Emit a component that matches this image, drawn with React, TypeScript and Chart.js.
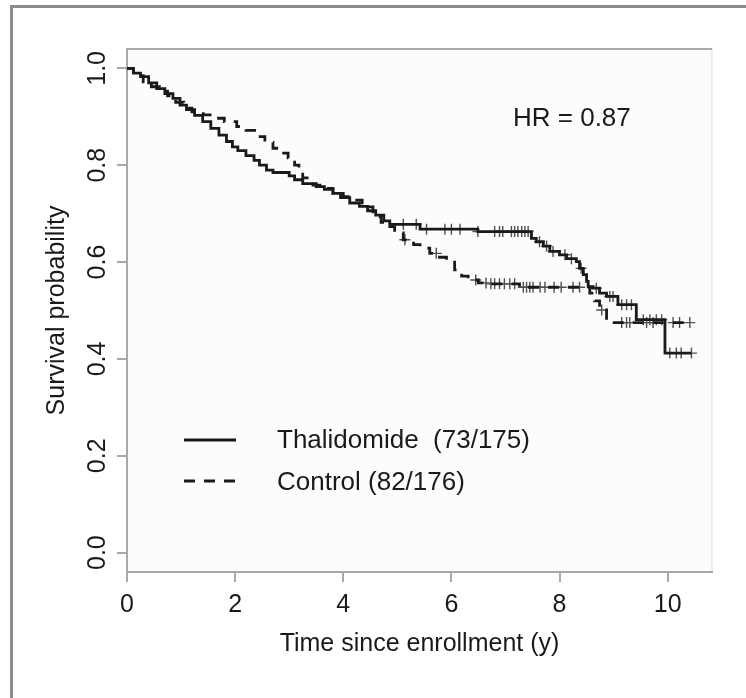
import React, { useEffect, useRef } from "react";
import { Chart, registerables } from "chart.js";

Chart.register(...registerables);

// ---- data ----
const thalTimes = [0, 0.12, 0.25, 0.4, 0.55, 0.7, 0.85, 0.98, 1.1, 1.25, 1.4, 1.55, 1.7, 1.84, 1.95, 2.05, 2.2, 2.35, 2.45, 2.58, 2.7, 3.0, 3.1, 3.25, 3.5, 3.65, 3.81, 3.95, 4.12, 4.3, 4.45, 4.6, 4.75, 4.86, 5.42, 6.49, 7.48, 7.57, 7.7, 7.82, 8.0, 8.13, 8.31, 8.37, 8.44, 8.5, 8.53, 8.62, 8.74, 8.87, 9.08, 9.42, 9.95, 10.44];
const thalSurv = [1.0, 0.99, 0.983, 0.97, 0.958, 0.948, 0.938, 0.924, 0.915, 0.903, 0.89, 0.876, 0.862, 0.849, 0.838, 0.83, 0.82, 0.81, 0.8, 0.79, 0.785, 0.778, 0.77, 0.762, 0.756, 0.75, 0.742, 0.733, 0.722, 0.715, 0.706, 0.697, 0.685, 0.678, 0.668, 0.663, 0.649, 0.642, 0.633, 0.622, 0.615, 0.607, 0.601, 0.587, 0.574, 0.56, 0.549, 0.546, 0.536, 0.529, 0.512, 0.481, 0.412, 0.412];

const ctrlTimes = [0, 0.12, 0.3, 0.45, 0.6, 0.75, 0.9, 1.05, 1.2, 1.41, 1.6, 1.8, 2.03, 2.2, 2.4, 2.55, 2.7, 2.85, 2.98, 3.1, 3.18, 3.25, 3.44, 3.6, 3.81, 4.0, 4.18, 4.35, 4.55, 4.7, 4.86, 4.95, 5.11, 5.3, 5.42, 5.6, 5.75, 5.91, 6.06, 6.19, 6.31, 6.5, 6.71, 7.26, 8.56, 8.65, 8.74, 8.87, 10.41];
const ctrlSurv = [1.0, 0.985, 0.972, 0.962, 0.953, 0.943, 0.93, 0.918, 0.91, 0.904, 0.897, 0.89, 0.88, 0.872, 0.859, 0.847, 0.835, 0.825, 0.815, 0.8, 0.787, 0.774, 0.759, 0.752, 0.742, 0.735, 0.728, 0.714, 0.694, 0.682, 0.673, 0.66, 0.646, 0.636, 0.629, 0.618, 0.61, 0.603, 0.584, 0.571, 0.563, 0.557, 0.555, 0.548, 0.536, 0.52, 0.501, 0.475, 0.475];

const thalCensorTimes = [5.11, 5.35, 5.54, 5.88, 6.0, 6.16, 6.49, 6.8, 6.89, 6.95, 7.11, 7.17, 7.23, 7.3, 7.36, 7.42, 7.63, 7.76, 7.88, 8.1, 8.22, 8.4, 8.68, 8.93, 8.99, 9.15, 9.24, 9.33, 9.55, 9.67, 9.79, 9.89, 10.04, 10.16, 10.25, 10.44];
const ctrlCensorTimes = [5.14, 5.72, 6.45, 6.64, 6.73, 6.8, 6.89, 6.98, 7.08, 7.17, 7.33, 7.39, 7.45, 7.51, 7.64, 7.73, 7.9, 8.03, 8.25, 8.37, 8.78, 9.15, 9.24, 9.3, 9.61, 9.73, 10.1, 10.22, 10.41];

const xTickValues = [0, 2, 4, 6, 8, 10];
const yTickValues = [0, 0.2, 0.4, 0.6, 0.8, 1.0];
const xTitle = "Time since enrollment (y)";
const yTitle = "Survival probability";
const legendLabels = ["Thalidomide  (73/175)", "Control (82/176)"];
const hrLabel = "HR = 0.87";

const FONT = "'Liberation Sans', Arial, Helvetica, sans-serif";
const INK = "#1a1a1a";
const AXIS = "#a9a9a9";

function survAt(times: number[], surv: number[], t: number) {
  let s = surv[0];
  for (let i = 0; i < times.length; i++) if (times[i] <= t) s = surv[i];
  return s;
}

const bgPlugin = {
  id: "bgPlugin",
  beforeDraw(chart: any) {
    const { ctx, chartArea: a } = chart;
    ctx.save();
    ctx.fillStyle = "#fcfcfc";
    ctx.fillRect(a.left, a.top, a.right - a.left, a.bottom - a.top);
    ctx.strokeStyle = "#ececec";
    ctx.lineWidth = 2;
    ctx.beginPath();
    ctx.moveTo(a.right, a.top);
    ctx.lineTo(a.right, a.bottom);
    ctx.stroke();
    ctx.strokeStyle = AXIS;
    ctx.beginPath();
    ctx.moveTo(a.left, a.top);
    ctx.lineTo(a.right, a.top);
    ctx.stroke();
    ctx.restore();
  },
};

const annotPlugin = {
  id: "annotPlugin",
  afterDraw(chart: any) {
    const { ctx, chartArea: a } = chart;
    ctx.save();
    ctx.fillStyle = INK;
    ctx.strokeStyle = INK;
    ctx.font = `26px ${FONT}`;
    ctx.textBaseline = "middle";
    ctx.textAlign = "left";
    // HR label
    ctx.fillText(hrLabel, a.left + 386, 119);
    // legend
    const lx0 = a.left + 57;
    const lx1 = a.left + 109;
    const tx = a.left + 150;
    const rows = [440, 481];
    ctx.lineWidth = 2.8;
    ctx.setLineDash([]);
    ctx.beginPath();
    ctx.moveTo(lx0, rows[0]);
    ctx.lineTo(lx1, rows[0]);
    ctx.stroke();
    ctx.setLineDash([11, 9]);
    ctx.beginPath();
    ctx.moveTo(lx0, rows[1]);
    ctx.lineTo(lx1, rows[1]);
    ctx.stroke();
    ctx.setLineDash([]);
    ctx.fillText(legendLabels[0], tx, rows[0] + 1);
    ctx.fillText(legendLabels[1], tx, rows[1] + 2);
    ctx.restore();
  },
};

export default function App() {
  const ref = useRef<HTMLCanvasElement>(null);
  useEffect(() => {
    if (!ref.current) return;
    const thalLine = thalTimes.map((t, i) => ({ x: t, y: thalSurv[i] }));
    const ctrlLine = ctrlTimes.map((t, i) => ({ x: t, y: ctrlSurv[i] }));
    const thalCens = thalCensorTimes.map((t) => ({ x: t, y: survAt(thalTimes, thalSurv, t) }));
    const ctrlCens = ctrlCensorTimes.map((t) => ({ x: t, y: survAt(ctrlTimes, ctrlSurv, t) }));
    const chart = new Chart(ref.current, {
      type: "line",
      data: {
        datasets: [
          { label: "Thalidomide", data: thalLine, stepped: true, borderColor: INK, borderWidth: 2.8, pointRadius: 0, fill: false } as any,
          { label: "Control", data: ctrlLine, stepped: true, borderColor: INK, borderWidth: 2.8, borderDash: [11, 9], pointRadius: 0, fill: false } as any,
          { type: "scatter", label: "Thal censored", data: thalCens, showLine: false, pointStyle: "cross", pointRadius: 5.5, borderColor: "#505050", borderWidth: 1.4 } as any,
          { type: "scatter", label: "Ctrl censored", data: ctrlCens, showLine: false, pointStyle: "cross", pointRadius: 5.5, borderColor: "#505050", borderWidth: 1.4 } as any,
        ],
      },
      options: {
        responsive: false,
        animation: false,
        events: [],
        layout: { padding: { left: 0, right: 34, top: 49, bottom: 0 } },
        plugins: { legend: { display: false }, tooltip: { enabled: false } },
        scales: {
          x: {
            type: "linear",
            min: 0,
            max: 10.82,
            afterBuildTicks: (s: any) => { s.ticks = xTickValues.map((v) => ({ value: v })); },
            afterFit: (s: any) => { s.height = 126; },
            grid: { drawOnChartArea: false, drawTicks: true, tickLength: 10, color: AXIS, lineWidth: 2 },
            border: { display: true, color: AXIS, width: 2 },
            ticks: { color: INK, font: { family: FONT, size: 25 }, padding: 8, maxRotation: 0, autoSkip: false, callback: (v: any) => String(v) },
            title: { display: true, text: xTitle, color: INK, font: { family: FONT, size: 25 }, padding: { top: 0, bottom: 39 } },
          },
          y: {
            type: "linear",
            min: -0.04,
            max: 1.04,
            afterBuildTicks: (s: any) => { s.ticks = yTickValues.map((v) => ({ value: v })); },
            afterFit: (s: any) => { s.width = 127; },
            grid: { drawOnChartArea: false, drawTicks: true, tickLength: 10, color: AXIS, lineWidth: 2 },
            border: { display: true, color: AXIS, width: 2 },
            ticks: { color: INK, font: { family: FONT, size: 25 }, padding: 2, minRotation: 90, maxRotation: 90, crossAlign: "center", autoSkip: false, callback: (v: any) => Number(v).toFixed(1) },
            title: { display: true, text: yTitle, color: INK, font: { family: FONT, size: 25 }, padding: { top: 42, bottom: 0 } },
          },
        },
      } as any,
      plugins: [bgPlugin, annotPlugin],
    });
    return () => chart.destroy();
  }, []);

  return (
    <div style={{ position: "fixed", left: 0, top: 0, width: 746, height: 698, overflow: "hidden", background: "#fff" }}>
      <div style={{ position: "absolute", left: 10, top: 5, width: 800, height: 800, borderLeft: "3px solid #8c8c8c", borderTop: "3px solid #8c8c8c" }} />
      <canvas ref={ref} width={746} height={698} style={{ position: "absolute", left: 0, top: 0, width: 746, height: 698 }} />
    </div>
  );
}
